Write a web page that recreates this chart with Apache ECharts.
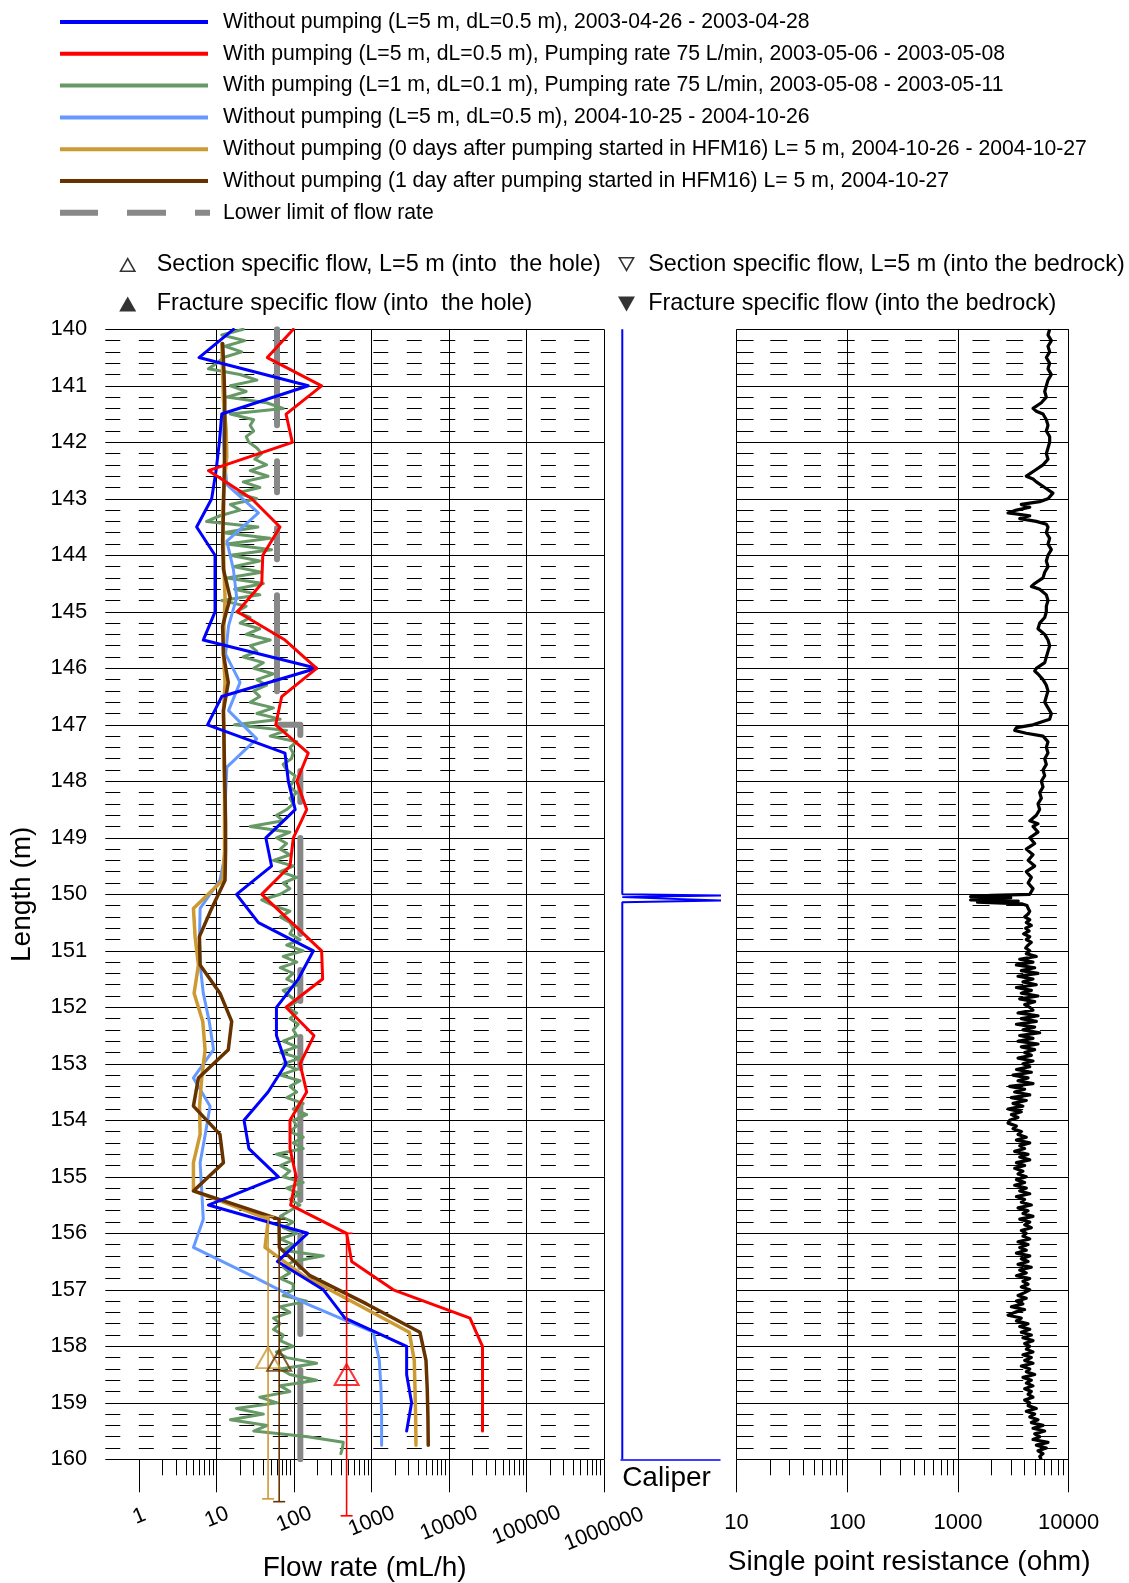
<!DOCTYPE html>
<html>
<head>
<meta charset="utf-8">
<script src="https://cdn.jsdelivr.net/npm/echarts@6/dist/echarts.min.js"></script>
<style>
  html, body { margin: 0; padding: 0; background: #fff; }
  #chart { width: 1129px; height: 1583px; }
</style>
</head>
<body>
<div id="chart"></div>
<script>
// ---------------------------------------------------------------------------
// Depth grids (borehole length, m)
// ---------------------------------------------------------------------------
const depth2003 = [140, 140.5, 141, 141.5, 142, 142.5, 143, 143.5, 144, 144.5,
  145, 145.5, 146, 146.5, 147, 147.5, 148, 148.5, 149, 149.5,
  150, 150.5, 151, 151.5, 152, 152.5, 153, 153.5, 154, 154.5,
  155, 155.5, 156, 156.5, 157, 157.5, 158, 158.5, 159, 159.5];
const depth2004 = [140.25, 140.75, 141.25, 141.75, 142.25, 142.75, 143.25, 143.75, 144.25, 144.75,
  145.25, 145.75, 146.25, 146.75, 147.25, 147.75, 148.25, 148.75, 149.25, 149.75,
  150.25, 150.75, 151.25, 151.75, 152.25, 152.75, 153.25, 153.75, 154.25, 154.75,
  155.25, 155.75, 156.25, 156.75, 157.25, 157.75, 158.25, 158.75, 159.25, 159.75];

// ---------------------------------------------------------------------------
// Flow rate (mL/h)
// ---------------------------------------------------------------------------
const flowNoPump2003 = [16.4, 5.9, 152, 11.6, 10.8, 9.8, 8.6, 5.5, 9.5, 9.5,
  9.5, 6.7, 195, 11.6, 7.6, 76, 84, 103, 43, 51,
  18, 34.5, 177, 113, 59, 59, 78.5, 46, 22.5, 26,
  62.5, 7.8, 149, 60.7, 238, 453, 2830, 2830, 3280, 2830];
const flowPump2003 = [97.5, 45, 226, 78.5, 94.6, 7.8, 28.3, 65.6, 39.3, 38.1,
  18.5, 76.2, 195, 69, 57.7, 152, 108, 145, 97.5, 88.3,
  38.1, 93, 226, 233, 78.5, 180, 119, 145, 88.3, 88.3,
  106, 90, 475, 552, 1905, 18600, 27000, 27000, 27000, 27000];
// 1 m section, 0.1 m step, starting at 140.0 m
const flowPumpFine = [
  22, 11.6, 23, 12.8, 21, 12.2, 10, 7.8, 20, 33,
  15, 24, 13.5, 44, 72, 15, 30, 27, 30, 24,
  26, 33, 38, 31, 44, 27, 46, 22, 36, 18,
  33, 15, 20, 11, 7.4, 34, 12.2, 49, 13.5, 51,
  15, 36, 16.4, 38, 13.5, 40, 17, 36, 11.6, 24,
  18, 27, 20, 36, 24, 49, 27, 33, 22, 40,
  30, 54, 33, 44, 30, 36, 27, 54, 33, 66,
  17, 80, 49, 108, 88, 97, 92, 72, 80, 103,
  97, 88, 108, 88, 97, 80, 59, 72, 27, 88,
  59, 80, 66, 88, 54, 97, 66, 108, 72, 88,
  66, 38, 54, 88, 66, 88, 97, 88, 119, 80,
  131, 72, 108, 66, 97, 80, 113, 72, 88, 108,
  80, 108, 88, 113, 97, 108, 72, 108, 66, 119,
  72, 108, 66, 119, 88, 108, 80, 131, 97, 145,
  97, 108, 88, 131, 97, 131, 59, 97, 66, 88,
  72, 131, 80, 119, 88, 119, 88, 66, 97, 72,
  108, 66, 97, 72, 238, 97, 72, 88, 66, 97,
  97, 72, 145, 66, 88, 54, 66, 54, 72, 66,
  97, 59, 80, 195, 66, 88, 195, 66, 88, 36,
  60, 18, 40, 15, 45, 30, 150, 430, 420, 400];
const fineStart = 140.0, fineStep = 0.1;
const flowNoPump2004 = [12, 12, 12.5, 12, 12.5, 13.5, 34.5, 13.5, 16.4, 18.1,
  14.2, 13, 20, 14.2, 32.8, 13.5, 13, 13, 13, 11,
  6.1, 6.0, 6.1, 6.7, 8.0, 9.1, 5.0, 8.2, 7.1, 6.1,
  6.4, 6.7, 5.0, 28, 145, 1050, 1256, 1320, 1345, 1345];
const flowDay0 = [11.6, 11.9, 12.2, 13.2, 13.5, 12.4, 11.9, 12.2, 12.4, 12.8,
  12.4, 12.2, 12.8, 12.2, 12.4, 12.4, 12.6, 12.6, 12.6, 11.9,
  5.0, 5.25, 5.8, 5.1, 6.6, 7.07, 6.4, 6.0, 6.1, 5.0,
  5.0, 46.4, 42, 131, 640, 3060, 3550, 3630, 3700, 3735];
const flowDay1 = [11.9, 12.4, 12.7, 12.7, 12.6, 12.4, 12.2, 11.9, 12.2, 14.9,
  11.9, 12.2, 14.1, 12.2, 12.4, 12.6, 12.8, 13.0, 13.0, 12.8,
  8.6, 5.97, 6.1, 11.0, 15.6, 14.1, 5.8, 5.0, 11.0, 12.2,
  5.0, 63.7, 64.3, 160, 861, 4200, 5030, 5220, 5330, 5380];
const lowerLimitFlow = [60, 60, 120, 120];
const lowerLimitDepth = [140, 147, 147, 160];

// Section specific flow, L = 5 m (into the hole): 2004-10-26, 2004-10-27, 2003-05-06
const sectionFlow = [46, 64, 475];
const sectionTop = [155.7, 155.75, 156.0];
const sectionBottom = [160.7, 160.75, 161.0];
const sectionMid = [158.2, 158.25, 158.5];

// Flow axis ticks
const flowTicks = [1, 10, 100, 1000, 10000, 100000, 1000000];
const flowTickLabels = ['1', '10', '100', '1000', '10000', '100000', '1000000'];

// ---------------------------------------------------------------------------
// Caliper (relative)
// ---------------------------------------------------------------------------
const caliperDepth = [140, 150.0, 150.02, 150.05, 150.08, 150.11, 150.14, 160];
const caliperValue = [0.013, 0.013, 1.03, 0.013, 0.013, 1.03, 0.013, 0.013];

// ---------------------------------------------------------------------------
// Single point resistance (ohm)
// ---------------------------------------------------------------------------
const resistanceUpper = [
  [140.0, 6730], [140.1, 6500], [140.2, 6970], [140.3, 6500], [140.4, 6730], [140.5, 6280], [140.6, 6730], [140.7, 6500], [140.8, 6970], [140.9, 6500],
  [141.0, 6280], [141.1, 6070], [141.2, 6280], [141.3, 5660], [141.4, 4760], [141.45, 5100], [141.5, 5860], [141.6, 6280], [141.7, 6500], [141.8, 6280], [141.9, 6730],
  [142.0, 6730], [142.1, 6500], [142.2, 6280], [142.3, 6500], [142.4, 5860], [142.5, 4930], [142.6, 4140], [142.65, 4760], [142.7, 5100], [142.8, 6070], [142.9, 7210],
  [143.0, 6500], [143.05, 5470], [143.1, 3730], [143.15, 4450], [143.2, 3370], [143.25, 2830], [143.3, 4450], [143.35, 3610], [143.4, 5100], [143.45, 6280], [143.5, 6500], [143.6, 6280], [143.7, 6730], [143.8, 6500], [143.9, 6970],
  [144.0, 6500], [144.1, 6280], [144.2, 6500], [144.3, 6070], [144.4, 5860], [144.5, 4930], [144.55, 4600], [144.6, 5470], [144.7, 6280], [144.8, 6500], [144.9, 6280],
  [145.0, 6280], [145.1, 6070], [145.2, 5470], [145.3, 5280], [145.4, 6070], [145.5, 6500], [145.6, 6730], [145.7, 6500], [145.8, 6280], [145.9, 6070],
  [146.0, 5100], [146.05, 4930], [146.1, 5280], [146.2, 5860], [146.3, 6280], [146.4, 6500], [146.5, 6280], [146.6, 6070], [146.7, 6500], [146.8, 6970], [146.9, 6730],
  [147.0, 4760], [147.05, 3370], [147.1, 3250], [147.15, 4140], [147.2, 5860], [147.3, 6500], [147.4, 6280], [147.5, 6500], [147.6, 6070], [147.7, 6280], [147.8, 5860], [147.9, 6070],
  [148.0, 5660], [148.1, 5860], [148.2, 5470], [148.3, 5660], [148.4, 5280], [148.5, 5470], [148.6, 5100], [148.7, 4450], [148.75, 5280], [148.8, 4760], [148.9, 5280],
  [149.0, 4450], [149.1, 4930], [149.2, 4140], [149.3, 4760], [149.4, 4300], [149.5, 4930], [149.6, 4140], [149.7, 4600], [149.8, 4300], [149.9, 4760],
  [150.0, 4450], [150.02, 2000], [150.04, 1300], [150.06, 3000], [150.08, 1400], [150.1, 1300], [150.12, 3500], [150.14, 1500], [150.17, 3800], [150.2, 4200], [150.25, 4300], [150.3, 4450]
];
// 0.05 m step from 150.35 m to 160.00 m
const resistanceLower = [
  4295, 4000, 4450, 4140, 4600, 4085, 4390, 3915, 4450, 4140, 4600, 4295, 4085, 4450,
  4140, 5100, 3610, 4760, 3370, 4930, 3730, 5280, 3485, 4760, 3860, 5100, 3370, 4600, 3730, 5280, 3610, 4930, 4000, 4450,
  4760, 3485, 5280, 3730, 5100, 3370, 4930, 3860, 5470, 3610, 4760, 3485, 5280, 3730, 4930, 4000, 4600, 3485, 4760, 3860,
  4450, 3370, 4600, 3140, 4295, 3485, 4760, 2930, 4000, 3250, 4450, 3035, 4140, 3140, 3860, 2830, 3730, 3035, 3485, 2930,
  2830, 3370, 3140, 3730, 3485, 4140, 3370, 4450, 3610, 4000, 3250, 4295, 3610, 4450, 3370, 4000, 3250, 3860, 3485, 4140,
  3370, 4000, 3250, 4140, 3610, 4450, 3370, 4000, 3730, 4600, 3485, 4295, 3860, 4760, 3610, 4450, 4000, 4600, 3730, 4140,
  3860, 4450, 3485, 4295, 3610, 4140, 3370, 4450, 3730, 4295, 3485, 4600, 3610, 4140, 3370, 4450, 3860, 4295, 3730, 4450,
  4000, 3485, 4140, 3370, 3860, 3035, 4000, 3250, 2830, 3730, 3370, 4295, 3610, 4450, 3730, 4600, 3860, 4760, 4000, 4450,
  4140, 4760, 3860, 4600, 4000, 4760, 3730, 4450, 4140, 4930, 3860, 4600, 4140, 4760, 4000, 4600, 4295, 4760, 4000, 4450,
  4295, 5100, 4140, 4930, 4450, 5280, 4600, 5860, 4760, 6070, 4930, 5470, 4760, 6500, 5100, 6280, 5280, 5860, 5470, 5660
];
const lowerStart = 150.35, lowerStep = 0.05;
const resistanceTicks = [10, 100, 1000, 10000];

// ---------------------------------------------------------------------------
// Names
// ---------------------------------------------------------------------------
const lineNames = [
  'Without pumping (L=5 m, dL=0.5 m), 2003-04-26 - 2003-04-28',
  'With pumping (L=5 m, dL=0.5 m), Pumping rate 75 L/min, 2003-05-06 - 2003-05-08',
  'With pumping (L=1 m, dL=0.1 m), Pumping rate 75 L/min, 2003-05-08 - 2003-05-11',
  'Without pumping (L=5 m, dL=0.5 m), 2004-10-25 - 2004-10-26',
  'Without pumping (0 days after pumping started in HFM16) L= 5 m, 2004-10-26 - 2004-10-27',
  'Without pumping (1 day after pumping started in HFM16) L= 5 m, 2004-10-27',
  'Lower limit of flow rate'
];
const markerNames = [
  'Section specific flow, L=5 m (into  the hole)',
  'Fracture specific flow (into  the hole)',
  'Section specific flow, L=5 m (into the bedrock)',
  'Fracture specific flow (into the bedrock)'
];

// ---------------------------------------------------------------------------
// Styling
// ---------------------------------------------------------------------------
const FONT = '"Liberation Sans", Arial, Helvetica, sans-serif';
const C = {
  blue: '#0000ff', red: '#ff0000', green: '#669966', lightBlue: '#6699ff',
  gold: '#cc9933', brown: '#663300', gray: '#888888', black: '#000000'
};
const sectionColors = [C.gold, C.brown, C.red];

const PLOT_TOP = 329.3, PLOT_H = 1130;
const FLOW_LEFT = 105.3, FLOW_W = 498.7;
const CAL_LEFT = 621, CAL_W = 99;
const RES_LEFT = 736.6, RES_W = 332.1;
// a hair above the last decade so that its tick survives float rounding
const FLOW_MAX = 1000000.5, RES_MAX = 10000.005;

// minor ticks at 2..9 of every decade
const flowMinorTicks = [];
for (let d = 1; d < 1e6; d *= 10) for (let k = 2; k <= 9; k++) flowMinorTicks.push(k * d);
const resMinorTicks = [];
for (let d = 10; d < 1e4; d *= 10) for (let k = 2; k <= 9; k++) resMinorTicks.push(k * d);
// the rotated decade labels are shared out over two overlaid axes (even / odd decades)
const flowLabelsEven = flowTicks.filter((v, i) => i % 2 === 0);
const flowLabelsOdd = flowTicks.filter((v, i) => i % 2 === 1);

// rotated flow tick labels: longer labels sit a little lower
const labelRotate = 22;
const labelDrop = [0, 1, 3, 5, 7, 9, 13];
const flowLabelRich = {};
labelDrop.forEach((d, i) => {
  const r = labelRotate * Math.PI / 180;
  const p = 2 * d * Math.cos(r);
  const q = p * Math.tan(r);
  flowLabelRich['t' + i] = { fontSize: 21.5, fontFamily: FONT, color: '#000', lineHeight: 24, padding: [p, q, 0, 0] };
});
function flowLabel(customValues) {
  return {
    show: true, customValues, rotate: labelRotate, align: 'center', verticalAlign: 'middle', margin: 57,
    hideOverlap: false,
    formatter: v => {
      const i = flowTicks.indexOf(Math.round(v));
      return '{t' + i + '|' + flowTickLabels[i] + '}';
    },
    rich: flowLabelRich
  };
}

function pairs(values, depths) { return values.map((v, i) => [v, depths[i]]); }
const finePairs = flowPumpFine.map((v, i) => [v, +(fineStart + i * fineStep).toFixed(2)]);
const resistancePairs = resistanceUpper.map(p => [p[1], p[0]])
  .concat(resistanceLower.map((v, i) => [v, +(lowerStart + i * lowerStep).toFixed(2)]));

function depthAxis(gridIndex, withGrid, withLabels, dash) {
  return {
    type: 'value', gridIndex, min: 140, max: 160, interval: 1, inverse: true,
    axisLine: { show: false, onZero: false }, axisTick: { show: false },
    axisLabel: { show: withLabels, fontSize: 22, fontFamily: FONT, color: '#000', margin: 18 },
    splitLine: { show: withGrid, lineStyle: { color: '#000', width: 1 } },
    minorTick: { show: false, splitNumber: 5 },
    minorSplitLine: { show: withGrid, lineStyle: { color: '#000', width: 1, type: dash || [17, 16.7], dashOffset: 0 } }
  };
}

function lineSeries(name, data, color, width, z) {
  return {
    name, type: 'line', xAxisIndex: 0, yAxisIndex: 0, data, color,
    symbol: 'none', showSymbol: false, silent: true, z: z || 2,
    lineStyle: { color, width, join: 'round', cap: 'round' }
  };
}

const solidIcon = 'path://M0,0M158,8M0,2H148V6H0Z';
const dashedIcon = 'path://M0,0M158,8M0,1H38V7H0Z M67,1H106V7H67Z M135,1H150V7H135Z';
const upOpen = 'path://M0,15L8.5,0L17,15Z M2.7,13.6L14.3,13.6L8.5,3.2Z M32.5,0';
const upFilled = 'path://M0,15L8.5,0L17,15Z M32.5,0';
const downOpen = 'path://M0,0L8.5,15L17,0Z M2.7,1.4L14.3,1.4L8.5,11.8Z M25.2,15';
const downFilled = 'path://M0,0L8.5,15L17,0Z M25.2,15';

const gridBase = { top: PLOT_TOP, height: PLOT_H, containLabel: false, outerBoundsMode: 'none' };

const option = {
  animation: false,
  backgroundColor: '#ffffff',
  textStyle: { fontFamily: FONT, color: '#000' },
  legend: [
    {
      orient: 'vertical', left: 60, top: 11, padding: 0,
      itemWidth: 158, itemHeight: 8, itemGap: 9.8, selectedMode: false,
      textStyle: { fontSize: 21.2, fontFamily: FONT, color: '#000', lineHeight: 22 },
      itemStyle: { borderWidth: 0 },
      data: lineNames.map((n, i) => ({ name: n, icon: i === 6 ? dashedIcon : solidIcon }))
    },
    {
      orient: 'vertical', left: 119.2, top: 251.5, padding: 0,
      itemWidth: 32.5, itemHeight: 15, itemGap: 13.5, selectedMode: false,
      textStyle: { fontSize: 23.4, fontFamily: FONT, color: '#000', lineHeight: 26 },
      itemStyle: { color: '#000', borderWidth: 0 },
      data: [{ name: markerNames[0], icon: upOpen }, { name: markerNames[1], icon: upFilled }]
    },
    {
      orient: 'vertical', left: 618, top: 251.5, padding: 0,
      itemWidth: 25.2, itemHeight: 15, itemGap: 13.5, selectedMode: false,
      textStyle: { fontSize: 23.4, fontFamily: FONT, color: '#000', lineHeight: 26 },
      itemStyle: { color: '#000', borderWidth: 0 },
      data: [{ name: markerNames[2], icon: downOpen }, { name: markerNames[3], icon: downFilled }]
    }
  ],
  grid: [
    Object.assign({ left: FLOW_LEFT, width: FLOW_W }, gridBase),
    Object.assign({ left: CAL_LEFT, width: CAL_W }, gridBase),
    Object.assign({ left: RES_LEFT, width: RES_W }, gridBase)
  ],
  xAxis: [
    {
      type: 'log', logBase: 10, gridIndex: 0, position: 'bottom', min: 0.364, max: FLOW_MAX,
      axisLine: { show: false, onZero: false },
      axisTick: { show: true, length: 33, customValues: flowTicks, lineStyle: { color: '#000', width: 1 } },
      axisLabel: flowLabel(flowLabelsEven),
      splitLine: { show: true, showMinLine: false, lineStyle: { color: '#000', width: 1 } },
      name: 'Flow rate (mL/h)', nameLocation: 'middle', nameGap: 94.7, nameMoveOverlap: false,
      nameTextStyle: { fontSize: 28, fontFamily: FONT, color: '#000', lineHeight: 28, verticalAlign: 'top', padding: [0, 0, 0, 20] }
    },
    {
      type: 'log', logBase: 10, gridIndex: 0, position: 'bottom', min: 0.364, max: FLOW_MAX,
      axisLine: { show: false, onZero: false },
      axisTick: { show: true, length: 16, customValues: flowMinorTicks, lineStyle: { color: '#000', width: 1 } },
      axisLabel: flowLabel(flowLabelsOdd),
      splitLine: { show: false }
    },
    {
      type: 'value', gridIndex: 1, position: 'bottom', min: 0, max: 1,
      axisLine: { show: true, onZero: false, lineStyle: { color: C.blue, width: 1.5 } },
      axisTick: { show: false }, axisLabel: { show: false }, splitLine: { show: false },
      name: 'Caliper', nameLocation: 'middle', nameGap: 4.7, nameMoveOverlap: false,
      nameTextStyle: { fontSize: 28, fontFamily: FONT, color: '#000', lineHeight: 28, verticalAlign: 'top', padding: [0, 8, 0, 0] }
    },
    {
      type: 'log', logBase: 10, gridIndex: 2, position: 'bottom', min: 10, max: RES_MAX,
      axisLine: { show: false, onZero: false },
      axisTick: { show: true, length: 33, customValues: resistanceTicks, lineStyle: { color: '#000', width: 1 } },
      axisLabel: {
        customValues: resistanceTicks, fontSize: 22, fontFamily: FONT, color: '#000', lineHeight: 22, margin: 52.7,
        formatter: v => String(Math.round(v))
      },
      splitLine: { show: true, lineStyle: { color: '#000', width: 1 } },
      name: 'Single point resistance (ohm)', nameLocation: 'middle', nameGap: 88.7, nameMoveOverlap: false,
      nameTextStyle: { fontSize: 28, fontFamily: FONT, color: '#000', lineHeight: 28, verticalAlign: 'top', padding: [0, 0, 0, 13] }
    },
    {
      type: 'log', logBase: 10, gridIndex: 2, position: 'bottom', min: 10, max: RES_MAX,
      axisLine: { show: false, onZero: false },
      axisTick: { show: true, length: 16, customValues: resMinorTicks, lineStyle: { color: '#000', width: 1 } },
      axisLabel: { show: false }, splitLine: { show: false }
    }
  ],
  yAxis: [
    Object.assign(depthAxis(0, true, true, [15, 18.5]), {
      name: 'Length (m)', nameLocation: 'middle', nameGap: 69, nameMoveOverlap: false,
      nameTextStyle: { fontSize: 28, fontFamily: FONT, color: '#000', lineHeight: 28 }
    }),
    depthAxis(1, false, false),
    depthAxis(2, true, false, [17, 16.7])
  ],
  series: [
    {
      name: lineNames[6], type: 'line', xAxisIndex: 0, yAxisIndex: 0, color: C.gray,
      data: pairs(lowerLimitFlow, lowerLimitDepth), symbol: 'none', silent: true, z: 1,
      lineStyle: { color: C.gray, width: 6, cap: 'round', join: 'round', type: [96, 36, 31, 36, 31, 36] }
    },
    lineSeries(lineNames[2], finePairs, C.green, 3),
    lineSeries(lineNames[3], pairs(flowNoPump2004, depth2004), C.lightBlue, 3),
    lineSeries(lineNames[4], pairs(flowDay0, depth2004), C.gold, 3.5),
    lineSeries(lineNames[5], pairs(flowDay1, depth2004), C.brown, 3.5),
    lineSeries(lineNames[0], pairs(flowNoPump2003, depth2003), C.blue, 3),
    lineSeries(lineNames[1], pairs(flowPump2003, depth2003), C.red, 3),
    {
      type: 'custom', xAxisIndex: 0, yAxisIndex: 0, clip: false, silent: true, z: 3,
      data: sectionFlow.map((v, i) => [v, sectionTop[i], sectionBottom[i]]),
      renderItem: (params, api) => {
        const x = api.value(0);
        const p0 = api.coord([x, api.value(1)]);
        const p1 = api.coord([x, api.value(2)]);
        const style = { stroke: sectionColors[params.dataIndex], lineWidth: 1.6 };
        const cap = 6;
        return {
          type: 'group', children: [
            { type: 'line', shape: { x1: p0[0], y1: p0[1], x2: p1[0], y2: p1[1] }, style },
            { type: 'line', shape: { x1: p0[0] - cap, y1: p0[1], x2: p0[0] + cap, y2: p0[1] }, style },
            { type: 'line', shape: { x1: p1[0] - cap, y1: p1[1], x2: p1[0] + cap, y2: p1[1] }, style }
          ]
        };
      }
    },
    {
      name: markerNames[0], type: 'scatter', xAxisIndex: 0, yAxisIndex: 0, z: 4, silent: true,
      symbol: 'triangle', symbolSize: [24, 21],
      itemStyle: { color: 'rgba(255,255,255,0)', borderColor: '#000', borderWidth: 2 },
      data: sectionFlow.map((v, i) => ({ value: [v, sectionMid[i]], itemStyle: { borderColor: sectionColors[i] } }))
    },
    { name: markerNames[1], type: 'scatter', xAxisIndex: 0, yAxisIndex: 0, symbol: 'triangle', itemStyle: { color: '#000' }, data: [] },
    { name: markerNames[2], type: 'scatter', xAxisIndex: 0, yAxisIndex: 0, symbol: 'triangle', symbolRotate: 180, itemStyle: { color: 'rgba(255,255,255,0)', borderColor: '#000' }, data: [] },
    { name: markerNames[3], type: 'scatter', xAxisIndex: 0, yAxisIndex: 0, symbol: 'triangle', symbolRotate: 180, itemStyle: { color: '#000' }, data: [] },
    {
      type: 'line', xAxisIndex: 2, yAxisIndex: 1, data: pairs(caliperValue, caliperDepth),
      symbol: 'none', silent: true, color: C.blue, clip: false,
      lineStyle: { color: C.blue, width: 2 }
    },
    {
      type: 'line', xAxisIndex: 3, yAxisIndex: 2, data: resistancePairs,
      symbol: 'none', silent: true, color: C.black,
      lineStyle: { color: C.black, width: 3.2, join: 'round' }
    }
  ]
};

const chart = echarts.init(document.getElementById('chart'), null, { renderer: 'canvas', width: 1129, height: 1583 });
chart.setOption(option);
</script>
</body>
</html>
